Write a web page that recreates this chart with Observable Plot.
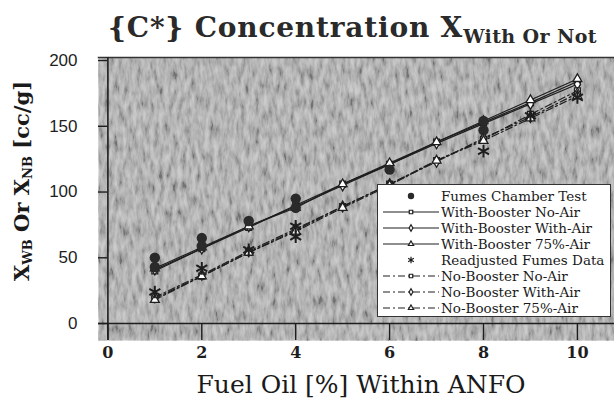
<!DOCTYPE html>
<html><head><meta charset="utf-8">
<script src="https://cdn.jsdelivr.net/npm/d3@7"></script>
<script src="https://cdn.jsdelivr.net/npm/@observablehq/plot@0.6"></script>
<style>
body{margin:0;background:#fff;}
#wrap{position:relative;width:614px;height:411px;overflow:hidden;font-family:"DejaVu Serif",serif;color:#1a1a1a;}
#title{position:absolute;left:108px;top:11px;font-size:28px;font-weight:bold;letter-spacing:0.8px;white-space:nowrap;color:#2a2a2a;}
#title sub{font-size:19px;vertical-align:-6px;letter-spacing:0.4px;}
#chart{position:absolute;left:0;top:52px;}
#ylab{position:absolute;left:22px;top:181px;transform:translate(-50%,-50%) rotate(-90deg);font-size:21px;font-weight:bold;white-space:nowrap;}
#ylab sub{font-size:13px;vertical-align:-3px;}
#xlab{position:absolute;left:0;width:722px;top:370px;text-align:center;font-size:25px;white-space:nowrap;}
#legend{position:absolute;left:377px;top:184px;width:234px;height:133px;background:#fff;border:1.5px solid #333;box-sizing:border-box;padding-top:3px;}
.row{display:flex;align-items:center;height:16px;}
.row svg{margin-left:3px;flex:none;display:block;width:60px;height:16px;}
.row span{font-size:13.5px;white-space:nowrap;}
</style></head>
<body><div id="wrap">
<div id="title">{C*} Concentration X<sub>With Or Not</sub></div>
<div id="chart"></div>
<div id="ylab">X<sub>WB</sub> Or X<sub>NB</sub> [cc/g]</div>
<div id="xlab">Fuel Oil [%] Within ANFO</div>
<div id="legend"></div>
</div>
<script>
// ---- data ----
const fuelOil = [1,2,3,4,5,6,7,8,9,10];
const wbNoAir   = [40,57,73,90,106,121,138,153,168,184];
const wbWithAir = [41,57,74,89,105,121,137,152,167,182];
const wb75Air   = [42,58,74,88,106,122,138,154,170,186];
const nbNoAir   = [19,36,54,71,89,106,124,140,159,177];
const nbWithAir = [20,37,55,72,89,106,123,141,157,175];
const nb75Air   = [18,36,54,70,88,105,124,139,156,173];
const fumesX = [1,1,2,2,3,4,4,6,8,8];
const fumesY = [50,43,65,59,78,95,88,117,154,147];
const readjX = [1,2,3,4,4,8,9,10];
const readjY = [24,42,56,74,66,131,158,172];
const xTicks = [0,2,4,6,8,10];
const yTicks = [0,50,100,150,200];
const seriesNames = ["With-Booster No-Air","With-Booster With-Air","With-Booster 75%-Air","No-Booster No-Air","No-Booster With-Air","No-Booster 75%-Air"];
const seriesValues = [wbNoAir,wbWithAir,wb75Air,nbNoAir,nbWithAir,nb75Air];
const seriesSymbols = ["square","diamond","triangle","square","diamond","triangle"];
const seriesDash = [null,null,null,"7,3,2,3","7,3,2,3","7,3,2,3"];

const xDomain = [-0.2, 10.79];
const yDomain = [-12.9, 202.3];
const ink = "#1e1e1e";

const series = seriesNames.map((name,i)=>({name, sym:seriesSymbols[i], dash:seriesDash[i],
  data: fuelOil.map((x,j)=>({x, y:seriesValues[i][j]}))}));
const fumes = fumesX.map((x,i)=>({x, y:fumesY[i]}));
const readj = readjX.map((x,i)=>({x, y:readjY[i]}));

const marks = [
  Plot.frame({fill:"#b0b0b0"}),
  Plot.frame({anchor:"top", stroke:"#333", strokeWidth:1.5}),
  Plot.ruleX([0], {stroke:ink, strokeWidth:1.6}),
  Plot.ruleY([0], {stroke:ink, strokeWidth:1.6}),
  Plot.ruleY(yTicks, {x1:xDomain[0], x2:0, stroke:ink, strokeWidth:1.4}),
  Plot.ruleX(xTicks, {y1:yDomain[0], y2:0, stroke:ink, strokeWidth:1.4}),
  Plot.axisX(xTicks, {tickSize:0, tickPadding:6, fontSize:16, fontWeight:"bold", fontFamily:"DejaVu Serif", label:null}),
  Plot.axisY(yTicks, {tickSize:0, tickPadding:21, fontSize:17, fontFamily:"Liberation Sans", label:null}),
];
for (const s of series) {
  marks.push(Plot.line(s.data, {x:"x", y:"y", stroke:ink, strokeWidth:1.2, strokeDasharray:s.dash}));
}
for (const s of series) {
  marks.push(Plot.dot(s.data, {x:"x", y:"y", symbol:s.sym, r:3.3, fill:"white", stroke:ink, strokeWidth:1.3}));
}
marks.push(Plot.dot(fumes, {x:"x", y:"y", r:5.2, fill:"#2a2a2a"}));
marks.push(Plot.dot(readj, {x:"x", y:"y", symbol:"asterisk", r:6, stroke:ink, strokeWidth:2}));

const chart = Plot.plot({
  width:614, height:359, marginLeft:98, marginRight:0, marginTop:5, marginBottom:71,
  x:{domain:xDomain, axis:null}, y:{domain:yDomain, axis:null},
  style:{background:"transparent", color:ink},
  marks
});
// textured grey background
const ns = "http://www.w3.org/2000/svg";
const defs = document.createElementNS(ns,"defs");
defs.innerHTML = `<filter id="noise" filterUnits="objectBoundingBox" x="0" y="0" width="1" height="1">
<feTurbulence type="fractalNoise" baseFrequency="0.22 0.07" numOctaves="3" seed="7"/>
<feColorMatrix type="matrix" values="1.6 0 0 0 -0.3  1.6 0 0 0 -0.3  1.6 0 0 0 -0.3  0 0 0 0 1"/>
</filter>`;
chart.insertBefore(defs, chart.firstChild);
const fr = chart.querySelector('[aria-label="frame"]');
if (fr) {
  const n = fr.cloneNode(true);
  n.setAttribute("filter","url(#noise)");
  n.setAttribute("opacity","0.35");
  fr.parentNode.insertBefore(n, fr.nextSibling);
}
document.getElementById("chart").appendChild(chart);

// legend
const legendItems = [
  {label:"Fumes Chamber Test", sym:"circle", line:false, fill:"#2a2a2a"},
  ...series.map(s=>({label:s.name, sym:s.sym, line:true, dash:s.dash, fill:"white"})),
  {label:"Readjusted Fumes Data", sym:"asterisk", line:false, fill:"none"}
];
const order = [0,1,2,3,7,4,5,6];
const symMap = {circle:d3.symbolCircle, square:d3.symbolSquare, diamond:d3.symbolDiamond, triangle:d3.symbolTriangle, asterisk:d3.symbolAsterisk};
const leg = document.getElementById("legend");
for (const k of order) {
  const it = legendItems[k];
  const size = it.sym==="circle" ? 32 : it.sym==="asterisk" ? 30 : 12;
  const p = d3.symbol(symMap[it.sym], size)();
  const line = it.line ? `<line x1="2" x2="58" y1="8" y2="8" stroke="${ink}" stroke-width="1.1" ${it.dash?`stroke-dasharray="${it.dash}"`:""}/>` : "";
  const stroke = it.sym==="circle" ? "none" : ink;
  leg.insertAdjacentHTML("beforeend", `<div class="row"><svg width="60" height="16" viewBox="0 0 60 16">${line}<path transform="translate(30,8)" d="${p}" fill="${it.fill}" stroke="${stroke}" stroke-width="1.2"/></svg><span>${it.label}</span></div>`);
}
</script>
</body></html>
